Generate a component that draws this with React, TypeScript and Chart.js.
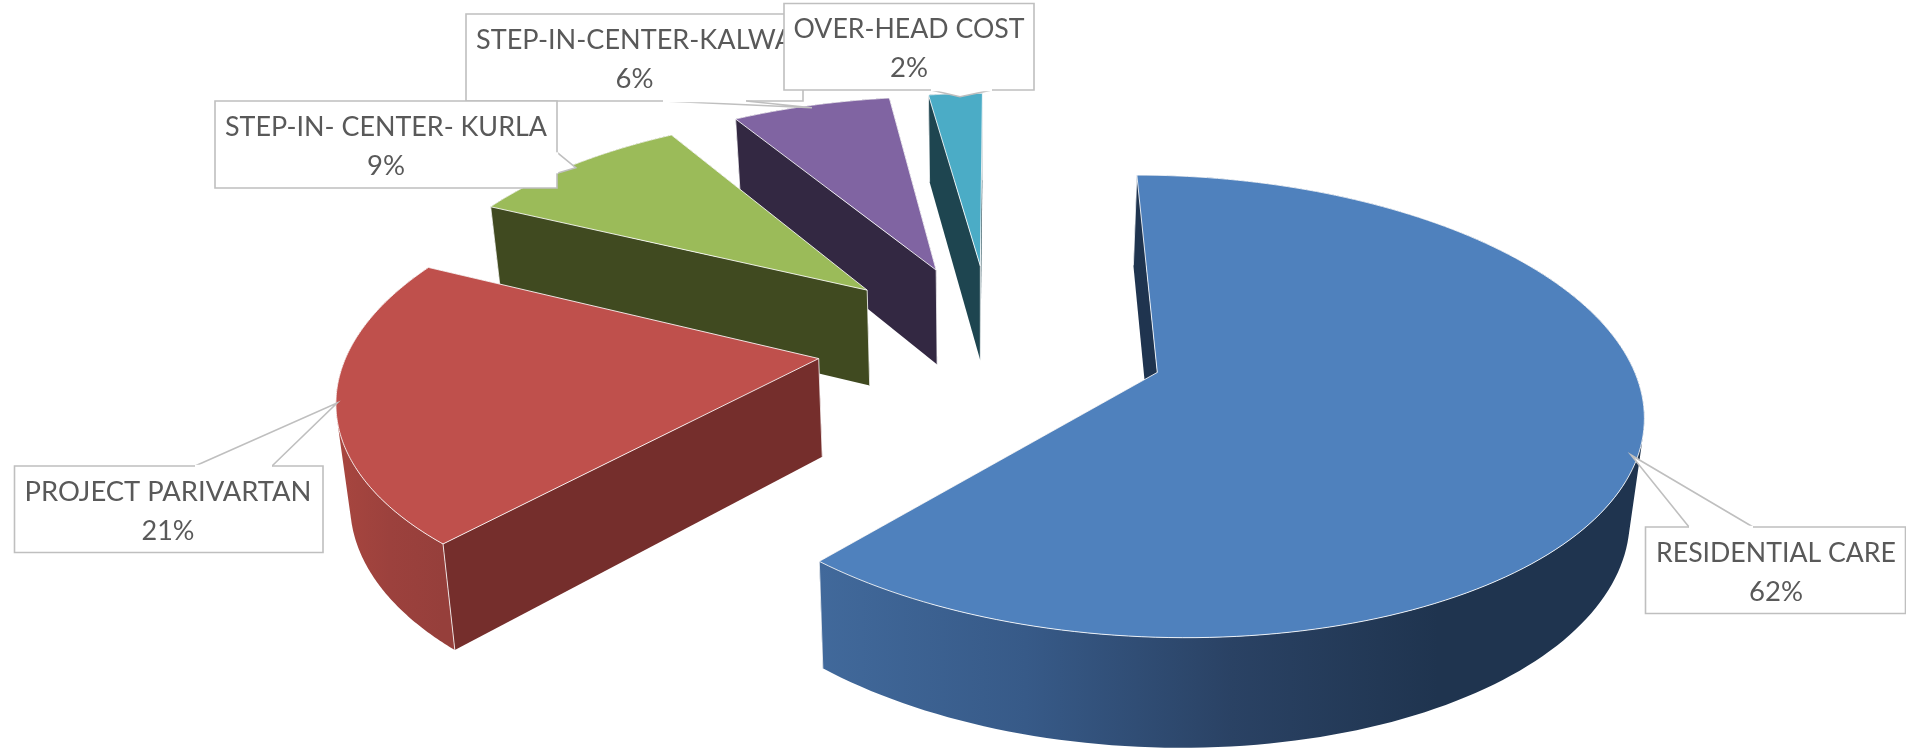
import React, { useEffect, useRef } from "react";
import { Chart, registerables } from "chart.js";

Chart.register(...registerables);

const categories = ["RESIDENTIAL CARE", "PROJECT PARIVARTAN", "STEP-IN- CENTER- KURLA", "STEP-IN-CENTER-KALWA", "OVER-HEAD COST"];
const shares = [61.62, 20.53, 9.17, 6.48, 2.2];
const topColors = ["#4F81BD", "#BF504C", "#9BBB59", "#8064A2", "#4BACC6"];
const faceColors = ["#1F344F", "#752E2C", "#404A20", "#332842", "#1E4550"];
const wallStops = [
  ["#41699B", "#375A88", "#2A4264", "#1F344F", "#1F344F"],
  ["#A8463F", "#9C413D", "#963F3B"],
  ["#404A20", "#404A20"],
  ["#332842", "#332842"],
  ["#1E4550", "#1E4550"],
];

// Perspective of the tilted pie plane and of its lower face
const VIEW = { cx: 991.46, cy: 342.8, rx: 468.4, ry: 217.7, tilt: 0.144, explode: 0.372 };
const DEPTH = { vanishX: 980, converge: 0.022, gain: 1.0425, shift: 83 };
const ROTATION = 0.108;

// Call-out layout: box, tail base, tail tip, line centres, baselines, text widths
const CALLOUTS = [
  { box: [1645.5, 527, 260, 86.5], tail: [[1689, 527], [1631, 455], [1753, 527]], tx: 1776, by: [561.7, 600.7], w: [240, 54] },
  { box: [14.5, 466, 308.5, 86.5], tail: [[195, 466], [337, 403], [272, 466]], tx: 168, by: [500.7, 540], w: [287, 53] },
  { box: [215, 101, 342, 87], tail: [[557, 152.3], [575.7, 167.7], [557, 173.3]], tx: 386, by: [135.7, 175], w: [322, 38] },
  { box: [466, 14, 337, 87], tail: [[663, 101], [812, 107.7], [746, 101]], tx: 634.5, by: [49.3, 88.3], w: [317, 38] },
  { box: [784, 3.5, 250, 86.5], tail: [[931, 90], [960, 96.7], [992, 90]], tx: 909, by: [37.7, 77.3], w: [231, 38] },
];
const CALLOUT_ORDER = [3, 2, 4, 1, 0];

type P = [number, number];

function toTop(x: number, y: number): P {
  const w = 1 - VIEW.tilt * y;
  return [VIEW.cx + (VIEW.rx * x) / w, VIEW.cy + (VIEW.ry * y) / w];
}
function toBottom(p: P): P {
  return [p[0] + (DEPTH.vanishX - p[0]) * DEPTH.converge, p[1] * DEPTH.gain + DEPTH.shift];
}
function addLoop(ctx: CanvasRenderingContext2D, pts: P[]) {
  pts.forEach((p, i) => (i ? ctx.lineTo(p[0], p[1]) : ctx.moveTo(p[0], p[1])));
  ctx.closePath();
}
function trace(ctx: CanvasRenderingContext2D, pts: P[]) {
  ctx.beginPath();
  addLoop(ctx, pts);
}
function signedArea(pts: P[]) {
  let sum = 0;
  pts.forEach((p, i) => {
    const q = pts[(i + 1) % pts.length];
    sum += p[0] * q[1] - q[0] * p[1];
  });
  return sum;
}
function wallShowing(a: P, b: P, inside: P) {
  const ex = b[0] - a[0];
  const ey = b[1] - a[1];
  const side = ex * (inside[1] - a[1]) - ey * (inside[0] - a[0]);
  return ex * side < 0;
}

const pie3d = {
  id: "pie3d",
  beforeDatasetsDraw(chart: any) {
    const ctx: CanvasRenderingContext2D = chart.ctx;
    const arcs = chart.getDatasetMeta(0).data;
    ctx.save();
    ctx.lineJoin = "round";
    for (let i = arcs.length - 1; i >= 0; i--) {
      const { startAngle, endAngle } = arcs[i];
      const mid = (startAngle + endAngle) / 2;
      const ox = VIEW.explode * Math.cos(mid);
      const oy = VIEW.explode * Math.sin(mid);
      const apex = toTop(ox, oy);
      const rim: P[] = [];
      const steps = 160;
      for (let s = 0; s <= steps; s++) {
        const t = startAngle + ((endAngle - startAngle) * s) / steps;
        rim.push(toTop(ox + Math.cos(t), oy + Math.sin(t)));
      }
      const first = rim[0];
      const last = rim[steps];
      const inside = rim[steps >> 1];
      const rimLow = rim.map(toBottom);
      const xs = rim.map((p) => p[0]);
      const gradient = ctx.createLinearGradient(Math.min(...xs), 0, Math.max(...xs), 0);
      wallStops[i].forEach((c, k, all) => gradient.addColorStop(k / (all.length - 1), c));

      const faces: [P, boolean][] = [
        [first, wallShowing(apex, first, inside)],
        [last, wallShowing(apex, last, inside)],
      ];
      const drawFace = (q: P) => {
        trace(ctx, [apex, q, toBottom(q), toBottom(apex)]);
        ctx.fillStyle = faceColors[i];
        ctx.fill();
      };
      faces.filter((f) => !f[1]).forEach((f) => drawFace(f[0]));
      // outer wall: the union of one same-wound quad per rim step, filled once
      ctx.beginPath();
      for (let s = 0; s < steps; s++) {
        const quad: P[] = [rim[s], rim[s + 1], rimLow[s + 1], rimLow[s]];
        addLoop(ctx, signedArea(quad) < 0 ? quad.reverse() : quad);
      }
      ctx.fillStyle = gradient;
      ctx.fill("nonzero");
      faces.filter((f) => f[1]).forEach((f) => drawFace(f[0]));

      ctx.strokeStyle = "rgba(255,255,255,0.8)";
      ctx.lineWidth = 1;
      [apex, first, last].forEach((q) => {
        const low = toBottom(q);
        ctx.beginPath();
        ctx.moveTo(q[0], q[1]);
        ctx.lineTo(low[0], low[1]);
        ctx.stroke();
      });

      trace(ctx, [apex, ...rim]);
      ctx.fillStyle = topColors[i];
      ctx.fill();
      ctx.strokeStyle = "rgba(255,255,255,0.85)";
      ctx.lineWidth = 1;
      ctx.stroke();
    }
    ctx.restore();
    return false;
  },
  afterDraw(chart: any) {
    const ctx: CanvasRenderingContext2D = chart.ctx;
    const total = shares.reduce((a, b) => a + b, 0);
    ctx.save();
    ctx.textAlign = "center";
    ctx.textBaseline = "alphabetic";
    ctx.font = "26px Lato";
    CALLOUT_ORDER.forEach((i) => {
      const c = CALLOUTS[i];
      const [x, y, w, h] = c.box;
      ctx.beginPath();
      ctx.rect(x, y, w, h);
      ctx.fillStyle = "#FFFFFF";
      ctx.fill();
      ctx.strokeStyle = "#BFBFBF";
      ctx.lineWidth = 1.6;
      ctx.stroke();
      ctx.beginPath();
      ctx.moveTo(c.tail[0][0], c.tail[0][1]);
      ctx.lineTo(c.tail[1][0], c.tail[1][1]);
      ctx.lineTo(c.tail[2][0], c.tail[2][1]);
      ctx.fill();
      ctx.stroke();
      // erase the part of the border under the tail
      ctx.beginPath();
      ctx.moveTo(c.tail[0][0], c.tail[0][1]);
      ctx.lineTo(c.tail[2][0], c.tail[2][1]);
      ctx.strokeStyle = "#FFFFFF";
      ctx.lineWidth = 2.4;
      ctx.stroke();
      ctx.fillStyle = "#595959";
      const lines = [categories[i], `${Math.round((shares[i] / total) * 100)}%`];
      lines.forEach((text, k) => {
        const natural = ctx.measureText(text).width;
        ctx.save();
        ctx.translate(c.tx, c.by[k]);
        ctx.scale(c.w[k] / natural, 1);
        ctx.fillText(text, 0, 0);
        ctx.restore();
      });
    });
    ctx.restore();
  },
};

export default function App() {
  const ref = useRef<HTMLCanvasElement>(null);
  useEffect(() => {
    const chart = new Chart(ref.current as HTMLCanvasElement, {
      type: "pie",
      data: {
        labels: categories,
        datasets: [{ data: shares, backgroundColor: topColors, borderWidth: 0 }],
      },
      options: {
        animation: false,
        responsive: false,
        rotation: ROTATION,
        plugins: { legend: { display: false }, tooltip: { enabled: false } },
      },
      plugins: [pie3d as any],
    });
    return () => chart.destroy();
  }, []);
  return (
    <div style={{ position: "absolute", left: 0, top: 0, width: 1906, height: 749, background: "#FFFFFF" }}>
      <canvas ref={ref} width={1906} height={749} style={{ display: "block" }} />
    </div>
  );
}
